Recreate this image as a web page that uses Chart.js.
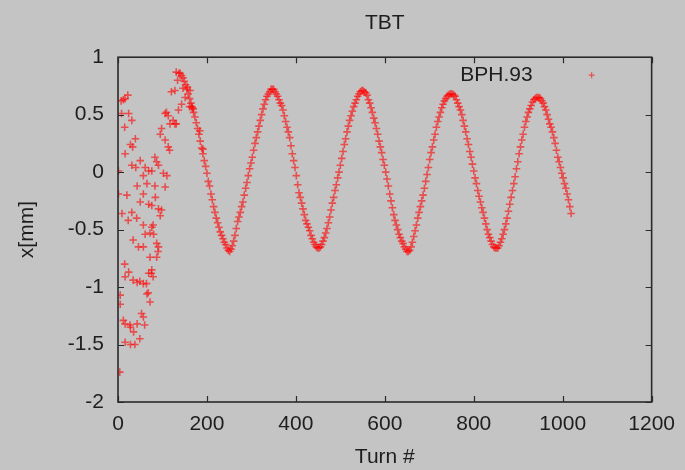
<!DOCTYPE html>
<html><head><meta charset="utf-8">
<script src="https://cdn.jsdelivr.net/npm/chart.js@4"></script>
<style>html,body{margin:0;padding:0;background:#c4c4c4;}canvas{display:block;}</style>
</head><body>
<canvas id="c" width="685" height="470"></canvas>
<script>
const chartTitle = 'TBT';
const seriesName = 'BPH.93';
const xAxisTitle = 'Turn #';
const yAxisTitle = 'x[mm]';
const xTicks = [0, 200, 400, 600, 800, 1000, 1200];
const yTicks = [1, 0.5, 0, -0.5, -1, -1.5, -2];

// scattered first turns: [turn, x in mm]
const earlyPoints = [
 [1,0.01],[1,-0.19],[4,-1.74],[5,-1.07],[5,-1.15],[7,0.62],[8,0.51],[9,-0.36],[12,-1.29],[12,0.63],
 [15,0.39],[15,-0.80],[16,0.64],[16,0.16],[16,-0.91],[16,-1.32],[16,-1.48],[20,-0.20],[22,0.67],[23,-0.42],
 [24,0.51],[24,-0.87],[27,-1.33],[28,0.24],[28,-1.35],[28,-1.50],[31,0.45],[31,0.06],[31,-0.35],[33,0.22],
 [34,-0.59],[34,-0.94],[35,-1.39],[38,-1.50],[39,0.29],[40,0.04],[42,-0.40],[43,-0.12],[43,-0.96],[43,-1.32],
 [46,-0.65],[49,-0.95],[49,-1.45],[50,0.10],[50,-0.26],[53,-1.23],[57,-0.03],[57,-0.19],[57,-0.46],[57,-0.65],
 [57,-0.97],[57,-1.26],[60,-1.33],[61,0.04],[61,-0.54],[64,-0.97],[65,-0.10],[65,-1.06],[68,-1.05],[69,0.01],
 [69,-0.28],[69,-0.88],[72,-0.53],[72,-0.74],[72,-1.13],[75,-0.88],[76,0.01],[76,-0.29],[76,-0.48],[76,-0.85],
 [79,-0.46],[79,-0.91],[80,-0.54],[83,0.13],[83,-0.12],[84,-0.22],[87,0.09],[87,-0.62],[87,-0.74],[90,-0.69],
 [91,0.06],[91,-0.32],[91,-0.65],[95,0.33],[95,-0.38],[98,0.38],[98,-0.33],[102,-0.01],[106,0.51],[106,0.28],
 [106,-0.13],[109,0.52],[110,-0.03],[113,0.49],[113,0.22],[116,0.19],[117,0.42],[120,0.70],[124,0.45],[128,0.71],
 [128,0.42],[131,0.87],[131,0.42],[134,0.80],[136,0.54],[137,0.86],[143,0.59],[146,0.73],[151,0.65],[156,0.74],
 [161,0.57],[162,0.71],[166,0.57],[169,0.55],[184,0.36],[191,0.20]
];

// ring-down band, read every 3 turns starting at turn 140
const bandStartTurn = 140;
const bandStepTurns = 3;
const bandX = [
 0.86,0.84,0.82,0.79,0.76,0.72,0.68,0.64,0.60,0.56,
 0.52,0.48,0.43,0.38,0.33,0.27,0.21,0.16,0.10,0.05,
 -0.01,-0.08,-0.12,-0.19,-0.24,-0.30,-0.35,-0.40,-0.44,-0.48,
 -0.52,-0.55,-0.58,-0.61,-0.63,-0.66,-0.68,-0.69,-0.67,-0.64,
 -0.60,-0.55,-0.49,-0.43,-0.39,-0.35,-0.30,-0.26,-0.20,-0.14,
 -0.09,-0.03,0.03,0.08,0.13,0.19,0.25,0.30,0.35,0.40,
 0.45,0.50,0.55,0.59,0.63,0.66,0.68,0.70,0.72,0.72,
 0.72,0.70,0.68,0.66,0.63,0.60,0.58,0.54,0.49,0.44,
 0.39,0.35,0.30,0.23,0.16,0.10,0.04,-0.03,-0.11,-0.18,
 -0.22,-0.27,-0.32,-0.37,-0.42,-0.45,-0.48,-0.51,-0.55,-0.58,
 -0.61,-0.63,-0.65,-0.66,-0.66,-0.65,-0.63,-0.60,-0.57,-0.53,
 -0.49,-0.44,-0.39,-0.33,-0.27,-0.22,-0.16,-0.11,-0.05,0.00,
 0.06,0.12,0.18,0.24,0.29,0.35,0.40,0.45,0.49,0.53,
 0.57,0.60,0.63,0.66,0.68,0.70,0.71,0.71,0.70,0.69,
 0.67,0.63,0.60,0.56,0.52,0.47,0.43,0.38,0.33,0.27,
 0.22,0.17,0.11,0.06,0.00,-0.06,-0.12,-0.19,-0.25,-0.31,
 -0.37,-0.42,-0.46,-0.50,-0.54,-0.57,-0.60,-0.62,-0.65,-0.67,
 -0.69,-0.69,-0.68,-0.65,-0.61,-0.56,-0.51,-0.46,-0.40,-0.35,
 -0.30,-0.25,-0.20,-0.14,-0.08,-0.02,0.04,0.11,0.17,0.22,
 0.28,0.33,0.39,0.44,0.48,0.52,0.56,0.59,0.62,0.64,
 0.66,0.67,0.68,0.68,0.68,0.67,0.66,0.63,0.60,0.57,
 0.54,0.50,0.45,0.40,0.35,0.29,0.24,0.18,0.13,0.07,
 0.01,-0.05,-0.10,-0.16,-0.21,-0.26,-0.31,-0.35,-0.40,-0.45,
 -0.50,-0.54,-0.57,-0.60,-0.63,-0.65,-0.66,-0.66,-0.66,-0.64,
 -0.61,-0.58,-0.54,-0.50,-0.45,-0.40,-0.34,-0.28,-0.22,-0.16,
 -0.10,-0.04,0.03,0.09,0.16,0.22,0.28,0.33,0.39,0.44,
 0.48,0.52,0.55,0.58,0.61,0.63,0.64,0.65,0.65,0.65,
 0.64,0.62,0.60,0.57,0.54,0.50,0.46,0.42,0.39,0.35,
 0.30,0.25,0.19,0.13,0.09,0.04,-0.01,-0.05,-0.10,-0.14,
 -0.19,-0.24,-0.30,-0.36
];

const FONT_FAMILY = '"Liberation Sans", Arial, Helvetica, sans-serif';
const TEXT_COLOR = '#1e1e1e';
const MARK_COLOR = 'rgba(255,0,0,0.6)';
const font = {family: FONT_FAMILY, size: 21, weight: 'normal', lineHeight: 1.2};

const points = earlyPoints.map(p => ({x: p[0], y: p[1]}))
  .concat(bandX.map((v, i) => ({x: bandStartTurn + i * bandStepTurns, y: v})));

const framePlugin = {
  id: 'frame',
  afterDraw(chart) {
    const {ctx, chartArea: a, scales} = chart;
    ctx.save();
    ctx.strokeStyle = '#2a2a2a';
    ctx.lineWidth = 1.2;
    const tl = 6;
    ctx.beginPath();
    xTicks.forEach(v => {
      const px = Math.round(scales.x.getPixelForValue(v)) + 0.5;
      ctx.moveTo(px, a.bottom); ctx.lineTo(px, a.bottom - tl);
      ctx.moveTo(px, a.top); ctx.lineTo(px, a.top + tl);
    });
    yTicks.forEach(v => {
      const py = Math.round(scales.y.getPixelForValue(v)) + 0.5;
      ctx.moveTo(a.left, py); ctx.lineTo(a.left + tl, py);
      ctx.moveTo(a.right, py); ctx.lineTo(a.right - tl, py);
    });
    ctx.stroke();
    ctx.lineWidth = 1.6;
    ctx.strokeRect(a.left, a.top, a.right - a.left, a.bottom - a.top);
    // key
    ctx.fillStyle = TEXT_COLOR;
    ctx.font = '21px ' + FONT_FAMILY;
    ctx.textAlign = 'right';
    ctx.textBaseline = 'middle';
    const ky = a.top + 18;
    ctx.fillText(seriesName, a.right - 119, ky);
    ctx.strokeStyle = MARK_COLOR;
    ctx.lineWidth = 1.2;
    const kx = a.right - 60;
    ctx.beginPath();
    ctx.moveTo(kx - 3, ky); ctx.lineTo(kx + 3, ky);
    ctx.moveTo(kx, ky - 3); ctx.lineTo(kx, ky + 3);
    ctx.stroke();
    ctx.restore();
  }
};

const plainLabel = v => String(v);

new Chart(document.getElementById('c'), {
  type: 'scatter',
  data: {datasets: [{
    label: seriesName,
    data: points,
    pointStyle: 'cross',
    pointRadius: 3.8,
    pointHoverRadius: 3.8,
    pointBorderWidth: 1.6,
    borderColor: MARK_COLOR,
    backgroundColor: MARK_COLOR
  }]},
  options: {
    responsive: false,
    animation: false,
    devicePixelRatio: 1,
    events: [],
    layout: {padding: {left: 0, right: 31, top: 0, bottom: 0}},
    plugins: {
      legend: {display: false},
      tooltip: {enabled: false},
      title: {display: true, fullSize: false, text: chartTitle, color: TEXT_COLOR, font: font, padding: {top: 11, bottom: 21}}
    },
    scales: {
      x: {
        type: 'linear', min: 0, max: 1200,
        afterFit(s) { s.height = 68; },
        afterBuildTicks(s) { s.ticks = xTicks.map(v => ({value: v})); },
        ticks: {color: TEXT_COLOR, font: font, padding: 10, maxRotation: 0, autoSkip: false, callback: plainLabel},
        grid: {display: false, drawTicks: false},
        border: {display: false},
        title: {display: true, text: xAxisTitle, color: TEXT_COLOR, font: font, padding: {top: 0, bottom: 0}}
      },
      y: {
        type: 'linear', min: -2, max: 1,
        afterFit(s) { s.width = 118; },
        afterBuildTicks(s) { s.ticks = yTicks.map(v => ({value: v})); },
        ticks: {color: TEXT_COLOR, font: font, padding: 14, autoSkip: false, callback: plainLabel},
        grid: {display: false, drawTicks: false},
        border: {display: false},
        title: {display: true, text: yAxisTitle, color: TEXT_COLOR, font: font, padding: {top: 15, bottom: 0}}
      }
    }
  },
  plugins: [framePlugin]
});
</script>
</body></html>
